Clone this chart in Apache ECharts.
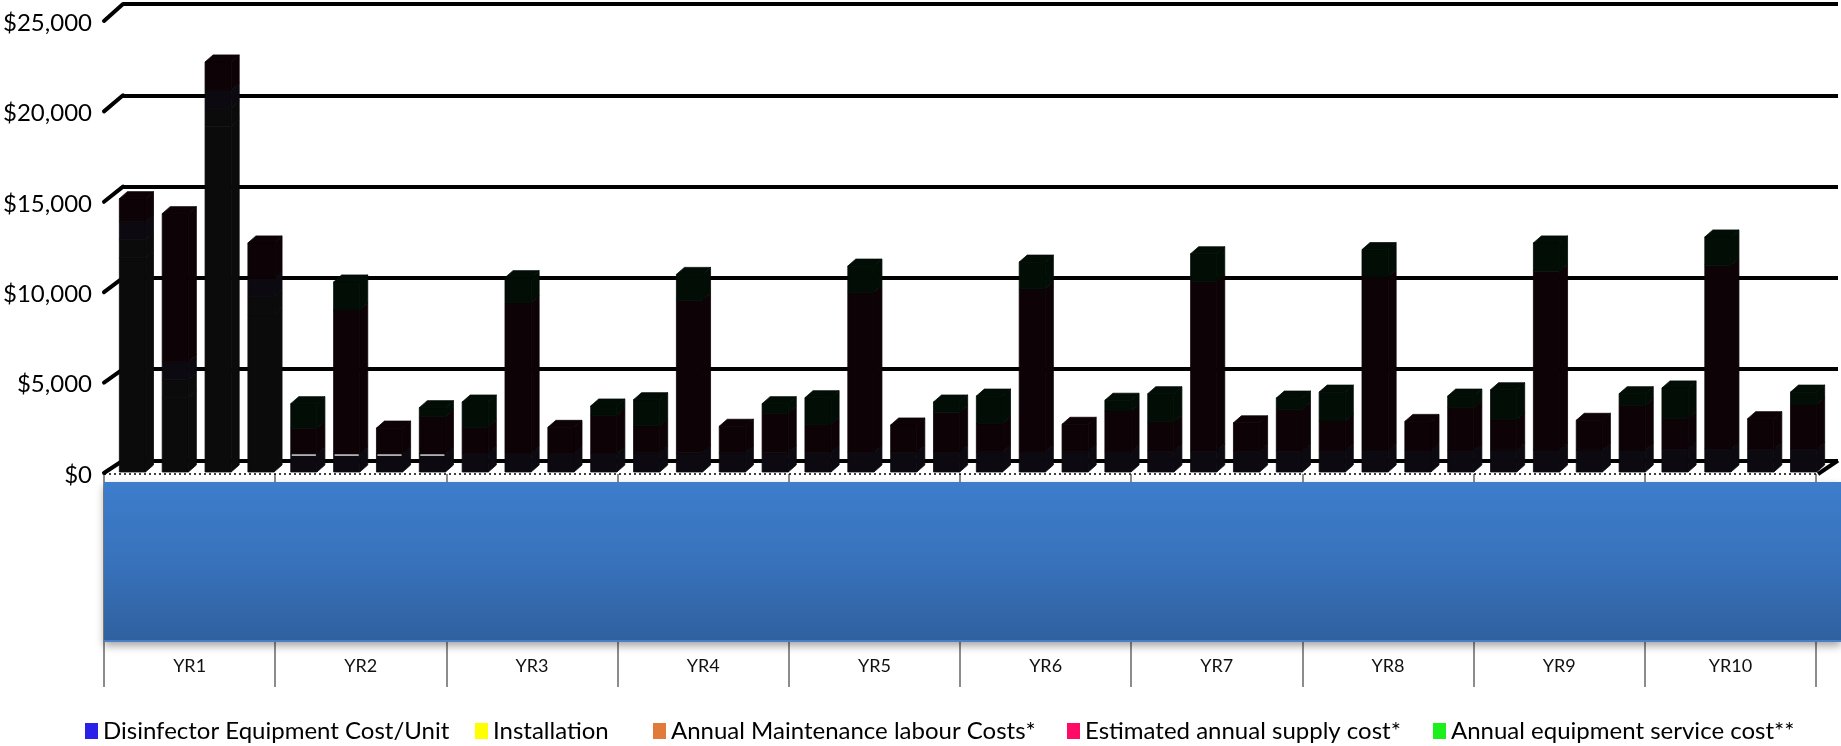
<!DOCTYPE html>
<html>
<head>
<meta charset="utf-8">
<title>Disinfector cost over ten years</title>
<script src="https://cdn.jsdelivr.net/npm/echarts@6/dist/echarts.min.js"></script>
<style>
  html, body { margin: 0; padding: 0; background: #ffffff; }
  #chart { width: 1841px; height: 746px; }
</style>
</head>
<body>
<div id="chart"></div>
<script>
// ---- data -------------------------------------------------------------
const years = ['YR1', 'YR2', 'YR3', 'YR4', 'YR5', 'YR6', 'YR7', 'YR8', 'YR9', 'YR10'];
const unitsPerYear = 4;
const valueTicks = [0, 5000, 10000, 15000, 20000, 25000];

const seriesNames = [
  'Disinfector Equipment Cost/Unit',
  'Installation',
  'Annual Maintenance labour Costs*',
  'Estimated annual supply cost*',
  'Annual equipment service cost**'
];

// four units per year, year after year
const equipmentCost = [
  11840, 4100, 19130, 8710,
  0, 0, 0, 0,  0, 0, 0, 0,  0, 0, 0, 0,  0, 0, 0, 0,  0, 0, 0, 0,
  0, 0, 0, 0,  0, 0, 0, 0,  0, 0, 0, 0,  0, 0, 0, 0
];
const installationCost = [
  1000, 1000, 1000, 1000,
  0, 0, 0, 0,  0, 0, 0, 0,  0, 0, 0, 0,  0, 0, 0, 0,  0, 0, 0, 0,
  0, 0, 0, 0,  0, 0, 0, 0,  0, 0, 0, 0,  0, 0, 0, 0
];
const labourCost = [
  1000, 1000, 1000, 1000,
  1000, 1000, 1000, 1000,
  1030, 1030, 1030, 1030,
  1060, 1060, 1060, 1060,
  1095, 1095, 1095, 1095,
  1125, 1125, 1125, 1125,
  1155, 1155, 1155, 1155,
  1190, 1190, 1190, 1190,
  1220, 1220, 1220, 1220,
  1255, 1255, 1255, 1255
];
const supplyCost = [
  1280, 8190, 1550, 1960,
  1420, 7960, 1430, 2060,
  1440, 8320, 1440, 2100,
  1500, 8440, 1470, 2180,
  1535, 8845, 1505, 2215,
  1555, 9005, 1515, 2245,
  1615, 9395, 1565, 2315,
  1630, 9610, 1610, 2370,
  1680, 9890, 1640, 2450,
  1695, 10185, 1695, 2475
];
const serviceCost = [
  0, 0, 0, 0,
  1360, 1550, 0, 500,
  1400, 1400, 0, 520,
  1440, 1430, 0, 540,
  1480, 1450, 0, 560,
  1520, 1480, 0, 600,
  1560, 1520, 0, 620,
  1600, 1500, 0, 640,
  1650, 1560, 0, 660,
  1700, 1560, 0, 690
];

// ---- styling ----------------------------------------------------------
const FONT = 'Lato';
const legendColors = ['#2a21e8', '#ffff00', '#e07b39', '#ff0a66', '#1cf01c'];
// the columns themselves print almost black, each part with a faint tint
const barShades = ['#0b0b0b', '#0b0b0b', '#0c0910', '#0d0306', '#020d06'];
const seamYearIndex = 1;        // thin white seam above the labour part in YR2
const legendLefts = [80, 470, 648, 1062, 1428];

// ---- build stacked segments ------------------------------------------
const components = [equipmentCost, installationCost, labourCost, supplyCost, serviceCost];
const slotNames = [];
years.forEach(y => { for (let u = 1; u <= unitsPerYear; u++) slotNames.push(y + ' #' + u); });

const segmentData = components.map((vals, c) => vals.map((v, s) => {
  let lo = 0;
  for (let k = 0; k < c; k++) lo += components[k][s];
  let above = 0;
  for (let k = c + 1; k < components.length; k++) above += components[k][s];
  const isTop = v > 0 && above === 0 ? 1 : 0;
  const seam = (c === 2 && Math.floor(s / unitsPerYear) === seamYearIndex) ? 1 : 0;
  return [s, lo, lo + v, isTop, seam];
}));

function renderColumn(params, api) {
  const lo = api.value(1), hi = api.value(2);
  if (!(hi > lo)) return null;
  const slot = api.value(0);
  const base = api.coord([slot, lo]);
  const top = api.coord([slot, hi]);
  const w = api.size([1, 0])[0];
  const frontW = w * 0.61, dx = w * 0.187, dy = 7;
  const x0 = base[0] - (frontW + dx) / 2, x1 = x0 + frontW;
  const yb = base[1], yt = top[1];
  const fill = barShades[params.seriesIndex];
  const style = { fill, stroke: fill, lineWidth: 0.8 };
  const children = [
    { type: 'rect', shape: { x: x0, y: yt, width: frontW, height: yb - yt }, style },
    { type: 'polygon', shape: { points: [[x1, yt], [x1 + dx, yt - dy], [x1 + dx, yb - dy], [x1, yb]] }, style }
  ];
  if (api.value(3) === 1) {
    children.push({ type: 'polygon', shape: { points: [[x0, yt], [x1, yt], [x1 + dx, yt - dy], [x0 + dx, yt - dy]] }, style });
  }
  if (api.value(4) === 1) {
    children.push({ type: 'line', shape: { x1: x0 + 1, y1: yt + 1, x2: x1 - 1, y2: yt + 1 }, style: { stroke: '#ffffff', lineWidth: 1.5 } });
  }
  return { type: 'group', children };
}

// ---- chart ------------------------------------------------------------
const chart = echarts.init(document.getElementById('chart'), null, { renderer: 'canvas' });

const option = {
  animation: false,
  backgroundColor: '#ffffff',
  grid: [
    { left: 115, right: 12, top: 20, bottom: 274 },       // columns (front plane)
    { left: 123, right: 3, top: 4, bottom: 285.5 },       // back wall grid lines
    { left: 104, right: 20, top: 23, bottom: 271 },       // value labels
    { left: 104, right: 25, top: 474, bottom: 59 }        // year axis
  ],
  xAxis: [
    { type: 'category', gridIndex: 0, data: slotNames, show: false },
    { type: 'value', gridIndex: 1, show: false },
    { type: 'value', gridIndex: 2, show: false },
    {
      type: 'category', gridIndex: 3, data: years, position: 'bottom',
      axisLine: { show: false }, axisTick: { show: false },
      splitLine: { show: true, lineStyle: { color: '#8c8c8c', width: 2 } },
      axisLabel: { inside: true, margin: 12, fontFamily: FONT, fontSize: 18, color: '#111111' }
    }
  ],
  yAxis: [
    { type: 'value', gridIndex: 0, min: 0, max: 25000, interval: 5000, show: false },
    {
      type: 'value', gridIndex: 1, min: 0, max: 25000, interval: 5000,
      axisLine: { show: false }, axisTick: { show: false }, axisLabel: { show: false },
      splitLine: { show: true, lineStyle: { color: '#000000', width: 4 } }
    },
    {
      type: 'value', gridIndex: 2, min: 0, max: 25000, interval: 5000,
      axisLine: { show: false }, axisTick: { show: false }, splitLine: { show: false },
      axisLabel: {
        margin: 16, fontFamily: FONT, fontSize: 24, color: '#000000',
        formatter: v => '$' + v.toLocaleString('en-US')
      }
    },
    { type: 'value', gridIndex: 3, show: false }
  ],
  legend: seriesNames.map((name, k) => ({
    data: [name], left: legendLefts[k], top: 714,
    icon: 'rect', itemWidth: 13, itemHeight: 16, itemGap: 0, selectedMode: false,
    textStyle: { fontFamily: FONT, fontSize: 24, color: '#000000' }
  })),
  series: seriesNames.map((name, c) => ({
    name, type: 'custom', xAxisIndex: 0, yAxisIndex: 0,
    itemStyle: { color: legendColors[c] },
    encode: { x: 0, y: [1, 2] },
    renderItem: renderColumn,
    data: segmentData[c],
    z: 3
  }))
};
chart.setOption(option);

// ---- floor, wall edges and the blue category band ----------------------
const wallFrontX = 104, wallBackX = 123;
const graphics = valueTicks.map(v => {
  const yf = chart.convertToPixel({ yAxisIndex: 2 }, v) - 2;
  const yb = chart.convertToPixel({ yAxisIndex: 1 }, v);
  return {
    type: 'line', z: 1, silent: true,
    shape: { x1: wallFrontX, y1: yf, x2: wallBackX, y2: yb },
    style: { stroke: '#000000', lineWidth: 4, lineCap: 'round' }
  };
});
const floorFront = chart.convertToPixel({ yAxisIndex: 2 }, 0) - 1;
const floorBack = chart.convertToPixel({ yAxisIndex: 1 }, 0);
graphics.push(
  { type: 'line', z: 1, silent: true,
    shape: { x1: wallFrontX, y1: floorFront, x2: 1818, y2: floorFront },
    style: { stroke: '#000000', lineWidth: 1.5, lineDash: [2, 3] } },
  { type: 'line', z: 1, silent: true,
    shape: { x1: 1818, y1: floorFront, x2: 1838, y2: floorBack },
    style: { stroke: '#000000', lineWidth: 4 } },
  { type: 'rect', z: 10, silent: true,
    shape: { x: 104, y: 482, width: 1737, height: 160 },
    style: {
      fill: new echarts.graphic.LinearGradient(0, 0, 0, 1, [
        { offset: 0, color: '#3d7dcc' },
        { offset: 0.5, color: '#3872bb' },
        { offset: 1, color: '#2f609f' }
      ]),
      shadowColor: 'rgba(0,0,0,0.35)', shadowBlur: 8, shadowOffsetY: 4
    } },
  { type: 'line', z: 11, silent: true,
    shape: { x1: 104, y1: 641, x2: 1841, y2: 641 },
    style: { stroke: '#4a7fc4', lineWidth: 2 } }
);
chart.setOption({ graphic: graphics });
</script>
</body>
</html>
